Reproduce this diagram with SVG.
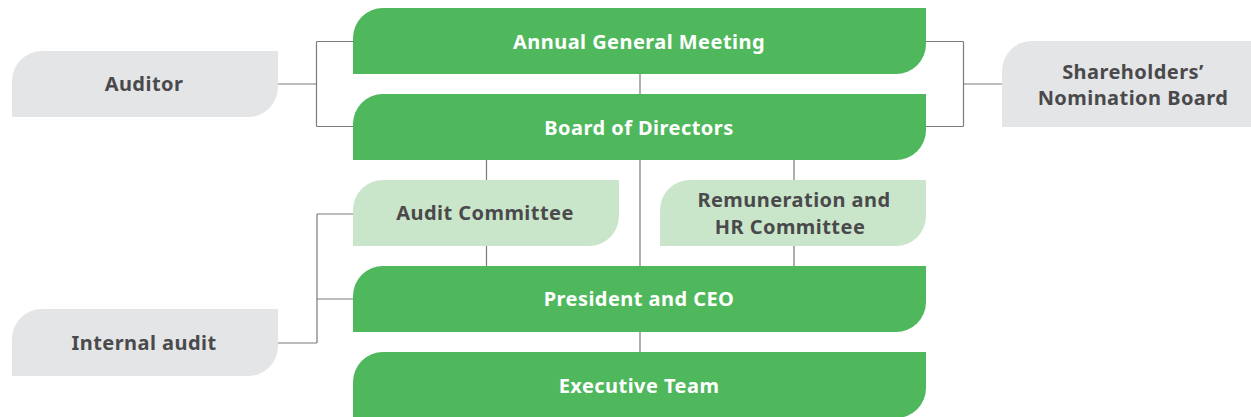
<svg xmlns="http://www.w3.org/2000/svg" width="1251" height="417" viewBox="0 0 1251 417">
<style>
.g{fill:#4fb85c}.lg{fill:#cae6ca}.gr{fill:#e4e5e7}
text{font-family:"Noto Sans","Open Sans","Liberation Sans",sans-serif;font-weight:700;font-size:20px;letter-spacing:0.45px;text-anchor:middle}
.w{fill:#ffffff}.d{fill:#4a4a4c}
#connectors path{fill:none;stroke:#7a7a7a;stroke-width:1.2}
</style>
<rect width="1251" height="417" fill="#ffffff"/>
<g id="connectors">
<path d="M278 84H316.5M316.5 41.5V126.5M316.5 41.5H353M316.5 126.5H353"/>
<path d="M926 41.5H963.5M926 126.5H963.5M963.5 41.5V126.5M963.5 84H1002"/>
<path d="M278 343H317M317 214V343M317 214H353M317 299H353"/>
<path d="M640 74V94M640 160V266M640 332V352"/>
<path d="M486.5 160V180M486.5 246V266"/>
<path d="M794 160V180M794 246V266"/>
</g>
<g id="agm"><path class="g" d="M353 74V38A30 30 0 0 1 383 8H926V44A30 30 0 0 1 896 74Z"/><text class="w" x="639" y="49">Annual General Meeting</text></g>
<g id="board"><path class="g" d="M353 160V124A30 30 0 0 1 383 94H926V130A30 30 0 0 1 896 160Z"/><text class="w" x="639" y="135">Board of Directors</text></g>
<g id="audit-committee"><path class="lg" d="M353 246V210A30 30 0 0 1 383 180H619V216A30 30 0 0 1 589 246Z"/><text class="d" x="485" y="220">Audit Committee</text></g>
<g id="remuneration"><path class="lg" d="M660 246V210A30 30 0 0 1 690 180H926V216A30 30 0 0 1 896 246Z"/><text class="d" x="794" y="207">Remuneration and</text><text class="d" x="790" y="234">HR Committee</text></g>
<g id="president"><path class="g" d="M353 332V296A30 30 0 0 1 383 266H926V302A30 30 0 0 1 896 332Z"/><text class="w" x="639" y="306">President and CEO</text></g>
<g id="executive"><path class="g" d="M353 418V382A30 30 0 0 1 383 352H926V388A30 30 0 0 1 896 418Z"/><text class="w" x="639" y="393">Executive Team</text></g>
<g id="auditor"><path class="gr" d="M12 117V81A30 30 0 0 1 42 51H278V87A30 30 0 0 1 248 117Z"/><text class="d" x="144" y="91">Auditor</text></g>
<g id="internal-audit"><path class="gr" d="M12 376V339A30 30 0 0 1 42 309H278V346A30 30 0 0 1 248 376Z"/><text class="d" x="144" y="350">Internal audit</text></g>
<g id="nomination"><path class="gr" d="M1002 127V71A30 30 0 0 1 1032 41H1251V127Z"/><text class="d" x="1133" y="79">Shareholders’</text><text class="d" x="1133" y="105">Nomination Board</text></g>
</svg>
